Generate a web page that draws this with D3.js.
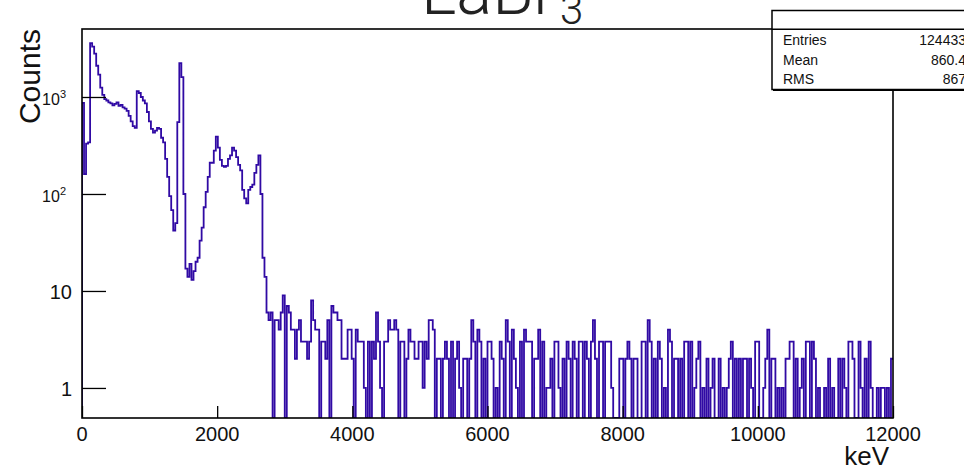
<!DOCTYPE html>
<html lang="en">
    <head>
        <meta charset="utf-8">
        <title>LaBr3 spectrum</title>
        <script type="text/javascript" src="https://d3js.org/d3.v7.min.js"></script>
        <style>
            body { margin: 0; background: #fff; }
            svg { display: block; font-family: "Liberation Sans", Arial, Helvetica, sans-serif; }
        </style>
    </head>
    <body>
        <script>
            // histogram: 400 bins of 30 keV, 0 - 12000 keV
            const binWidth = 30;
            const counts = [
                870, 160, 330, 340, 3600, 3300, 2800, 2100, 1700, 1250,
                1050, 950, 920, 880, 860, 820, 850, 880, 810, 830,
                780, 760, 720, 640, 560, 500, 480, 1150, 1100, 1000,
                920, 860, 700, 560, 470, 430, 450, 480, 470, 380,
                340, 230, 150, 95, 68, 42, 50, 550, 2230, 1600,
                100, 17, 14, 19, 13, 16, 20, 22, 33, 45,
                73, 105, 150, 210, 210, 280, 390, 300, 225, 195,
                190, 195, 230, 250, 300, 280, 240, 200, 175, 110,
                90, 80, 110, 118, 125, 165, 200, 250, 100, 22,
                14, 6, 5, 6, 0, 5, 5, 4, 6, 9,
                0, 7, 6, 4, 4, 2, 4, 5, 3, 3,
                3, 2, 3, 8, 5, 4, 4, 0, 3, 3,
                2, 5, 0, 7, 6, 6, 5, 5, 2, 2,
                2, 4, 4, 2, 0, 4, 3, 3, 3, 1,
                0, 3, 0, 3, 2, 6, 3, 1, 0, 3,
                3, 5, 4, 4, 5, 4, 0, 3, 3, 0,
                2, 4, 3, 3, 2, 2, 3, 3, 1, 3,
                2, 5, 5, 4, 0, 2, 2, 0, 2, 3,
                2, 0, 3, 0, 2, 3, 1, 0, 2, 2,
                0, 2, 5, 3, 0, 4, 3, 0, 2, 0,
                3, 3, 2, 0, 1, 0, 3, 2, 0, 5,
                3, 0, 4, 2, 1, 0, 3, 0, 4, 3,
                3, 3, 0, 2, 2, 4, 0, 3, 0, 1,
                1, 2, 0, 3, 3, 1, 0, 2, 0, 3,
                2, 0, 3, 2, 0, 3, 3, 0, 3, 2,
                0, 3, 5, 2, 0, 3, 3, 0, 3, 3,
                3, 1, 0, 0, 0, 2, 2, 0, 2, 3,
                2, 0, 2, 2, 0, 0, 3, 3, 0, 5,
                3, 0, 2, 0, 3, 2, 0, 1, 0, 4,
                3, 0, 2, 2, 0, 2, 0, 3, 3, 0,
                3, 0, 1, 2, 3, 0, 1, 0, 2, 0,
                1, 2, 0, 0, 2, 0, 1, 0, 1, 2,
                3, 0, 2, 0, 2, 0, 2, 2, 0, 2,
                1, 0, 3, 3, 0, 0, 1, 2, 4, 0,
                2, 2, 0, 1, 0, 1, 0, 2, 2, 3,
                3, 0, 2, 0, 1, 2, 0, 3, 3, 0,
                3, 2, 0, 1, 0, 0, 1, 0, 2, 0,
                1, 0, 0, 2, 0, 2, 1, 0, 3, 3,
                2, 0, 0, 3, 1, 0, 2, 0, 3, 1,
                0, 0, 1, 0, 1, 1, 0, 1, 0, 2
            ];

            const xMajor = [0, 2000, 4000, 6000, 8000, 10000, 12000];
            const xMinor = d3.range(0, 12001, 500);
            const yMajor = [1, 10, 100, 1000];
            const yLabels = [["1", ""], ["10", ""], ["10", "2"], ["10", "3"]];
            const yMinor = [0.5, 0.6, 0.7, 0.8, 0.9, 2, 3, 4, 5, 6, 7, 8, 9,
                            20, 30, 40, 50, 60, 70, 80, 90,
                            200, 300, 400, 500, 600, 700, 800, 900, 2000, 3000, 4000, 5000];

            const statLabels = ["Entries", "Mean", "RMS"];
            const statValues = ["124433", "860.4", "867"];

            const w = 964;
            const h = 468;
            const padL = 82, padR = 893, padT = 29, padB = 418;

            const svg = d3.select("body")
                        .append("svg")
                        .attr("width", w)
                        .attr("height", h);

            const xScale = d3.scaleLinear()
                             .domain([0, 12000])
                             .range([padL, padR]);

            const yScale = d3.scaleLog()
                             .domain([0.49, 5024])
                             .range([padB, padT])
                             .clamp(true);

            // empty bins fall to the bottom of the frame on a log axis
            const yOf = function(v) {
                return v > 0 ? yScale(v) : yScale.range()[0];
            };

            // title
            const title = svg.append("text")
               .attr("x", 421)
               .attr("y", 14)
               .attr("font-family", "Roboto, 'Liberation Sans', sans-serif")
               .attr("font-weight", 300)
               .attr("font-size", "67px")
               .attr("fill", "#222")
               .text("LaBr");
            title.append("tspan")
               .attr("dx", 4)
               .attr("dy", 10)
               .attr("font-size", "42px")
               .text("3");

            // histogram steps
            const pts = [[xScale(0), yScale.range()[0]]];
            counts.forEach(function(c, i) {
                pts.push([xScale(i * binWidth), yOf(c)]);
            });
            pts.push([xScale(counts.length * binWidth), yOf(counts[counts.length - 1])]);

            svg.append("clipPath")
               .attr("id", "plotclip")
               .append("rect")
               .attr("x", padL).attr("y", padT)
               .attr("width", padR - padL).attr("height", padB - padT);

            svg.append("path")
               .attr("clip-path", "url(#plotclip)")
               .attr("d", d3.line().curve(d3.curveStepAfter)(pts))
               .attr("fill", "none")
               .attr("stroke", "#300aa4")
               .attr("stroke-width", 1.8);

            // axes, ticks inside the frame
            const gx = svg.append("g").attr("transform", "translate(0," + padB + ")");
            gx.call(d3.axisBottom(xScale).tickValues(xMinor).tickSize(-6).tickFormat(""));
            gx.call(d3.axisBottom(xScale).tickValues(xMajor).tickSize(-12).tickFormat(""));
            gx.selectAll(".domain").remove();
            gx.selectAll("line").attr("stroke", "#000").attr("stroke-width", 1.3);

            const gy = svg.append("g").attr("transform", "translate(" + padL + ",0)");
            gy.call(d3.axisLeft(yScale).tickValues(yMinor).tickSize(-12).tickFormat(""));
            gy.call(d3.axisLeft(yScale).tickValues(yMajor).tickSize(-24).tickFormat(""));
            gy.selectAll(".domain").remove();
            gy.selectAll("line").attr("stroke", "#000").attr("stroke-width", 1.3);

            // x labels
            svg.selectAll("text.xl")
               .data(xMajor)
               .enter()
               .append("text")
               .attr("class", "xl")
               .attr("x", function(d) { return xScale(d); })
               .attr("y", 441)
               .attr("text-anchor", "middle")
               .attr("font-size", "20px")
               .attr("fill", "#111")
               .text(function(d) { return d; });

            // y labels
            yMajor.forEach(function(v, i) {
                const lab = yLabels[i];
                if (lab[1] === "") {
                    svg.append("text")
                       .attr("x", 72)
                       .attr("y", yScale(v) + 8)
                       .attr("text-anchor", "end")
                       .attr("font-size", "20px")
                       .attr("fill", "#111")
                       .text(lab[0]);
                } else {
                    const t = svg.append("text")
                       .attr("x", 66)
                       .attr("y", yScale(v) + 8)
                       .attr("text-anchor", "end")
                       .attr("font-size", "16px")
                       .attr("fill", "#111")
                       .text(lab[0]);
                    t.append("tspan")
                       .attr("dy", -7)
                       .attr("font-size", "11px")
                       .text(lab[1]);
                }
            });

            // axis titles
            svg.append("text")
               .attr("x", 889)
               .attr("y", 465)
               .attr("text-anchor", "end")
               .attr("font-size", "26px")
               .attr("fill", "#111")
               .text("keV");

            svg.append("text")
               .attr("transform", "translate(40," + padT + ") rotate(-90)")
               .attr("text-anchor", "end")
               .attr("font-size", "30px")
               .attr("fill", "#111")
               .text("Counts");

            // frame
            svg.append("rect")
               .attr("x", padL).attr("y", padT)
               .attr("width", padR - padL).attr("height", padB - padT)
               .attr("fill", "none")
               .attr("stroke", "#000")
               .attr("stroke-width", 1.6);

            // stats box
            const sb = svg.append("g");
            sb.append("rect")
              .attr("x", 773).attr("y", 12)
              .attr("width", 220).attr("height", 79)
              .attr("fill", "#000");
            sb.append("rect")
              .attr("x", 772).attr("y", 10.5)
              .attr("width", 220).attr("height", 79)
              .attr("fill", "#fff")
              .attr("stroke", "#000")
              .attr("stroke-width", 1.5);
            sb.append("line")
              .attr("x1", 772).attr("x2", 964)
              .attr("y1", 29.3).attr("y2", 29.3)
              .attr("stroke", "#000").attr("stroke-width", 1.5);

            statLabels.forEach(function(s, i) {
                sb.append("text")
                  .attr("x", 783)
                  .attr("y", 45 + i * 19.5)
                  .attr("font-size", "14px")
                  .attr("fill", "#111")
                  .text(s);
                sb.append("text")
                  .attr("x", 966)
                  .attr("y", 45 + i * 19.5)
                  .attr("text-anchor", "end")
                  .attr("font-size", "14px")
                  .attr("fill", "#111")
                  .text(statValues[i]);
            });
        </script>
    </body>
</html>
